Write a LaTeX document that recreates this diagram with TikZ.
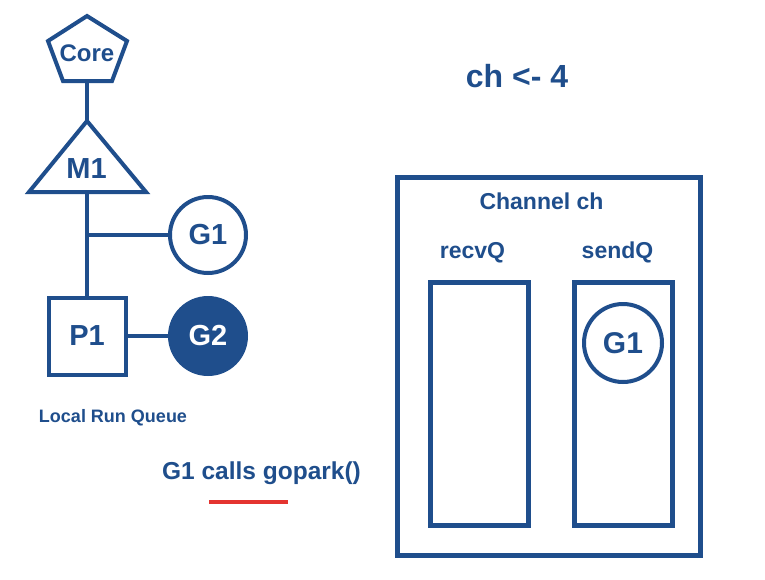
\documentclass[tikz,border=0pt]{standalone}
\usepackage{fontspec}
\setmainfont{Liberation Sans}
\definecolor{navy}{RGB}{31,78,140}
\definecolor{mark}{RGB}{228,52,48}
\newcommand{\fs}[1]{\fontsize{#1}{#1}\selectfont\bfseries}
\begin{document}
\begin{tikzpicture}[x=1pt,y=-1pt,
  shape line/.style={draw=navy,line width=4pt,line join=miter},
  conn/.style={draw=navy,line width=4pt},
  gnode/.style={circle,draw=navy,line width=4pt,fill=white,text=navy,inner sep=0pt,minimum size=76pt,font=\fs{29}},
  gfull/.style={gnode,fill=navy,text=white},
  pbox/.style={rectangle,draw=navy,line width=4pt,text=navy,inner sep=0pt,minimum size=77pt,font=\fs{29}},
  qbox/.style={draw=navy,line width=5pt},
  label/.style={text=navy,inner sep=0pt,anchor=base}]
\useasboundingbox[fill=white] (0,0) rectangle (765,579);

% machine side: core, thread, processor and goroutines
\draw[shape line] (87,16) -- (127,41) -- (112,81) -- (63,81) -- (48,41) -- cycle;
\node[label,font=\fs{24}] (core) at (87,61) {Core};
\draw[shape line] (87,121) -- (146,192) -- (29,192) -- cycle;
\node[label,font=\fs{29}] (m1) at (86.5,178) {M1};
\coordinate (coreS) at (87,81);
\coordinate (m1N) at (87,121);
\coordinate (m1S) at (87,192);
\coordinate (fork) at (87,235);

\node[gnode] (g1) at (208,235) {G1};
\node[pbox] (p1) at (87,336) {P1};
\node[gfull] (g2) at (208,336) {G2};

\draw[conn] (coreS) -- (m1N);
\draw[conn] (m1S) -- (p1.north);
\draw[conn] (fork) -- (g1.west);
\draw[conn] (p1.east) -- (g2.west);

\node[label,font=\fs{18}] (lrq) at (113,422) {Local Run Queue};
\node[label,font=\fs{24.5}] (park) at (261.5,479) {G1 calls gopark()};
\coordinate (ulA) at (209,502);
\coordinate (ulB) at (288,502);
\draw[draw=mark,line width=4pt] (ulA) -- (ulB);

% channel side
\node[label,font=\fs{32}] (send) at (517,87) {ch <- 4};
\draw[qbox] (397.5,177.5) rectangle (700.5,555.5);
\node[label,font=\fs{23}] (chname) at (541.5,209) {Channel ch};
\node[label,font=\fs{23}] (recvq) at (472.5,258) {recvQ};
\node[label,font=\fs{23}] (sendq) at (617.5,258) {sendQ};
\draw[qbox] (430.5,282.5) rectangle (528.5,525.5);
\draw[qbox] (574.5,282.5) rectangle (672.5,525.5);
\node[gnode,minimum size=78pt,font=\fs{30}] (g1q) at (623,343) {G1};
\end{tikzpicture}
\end{document}
